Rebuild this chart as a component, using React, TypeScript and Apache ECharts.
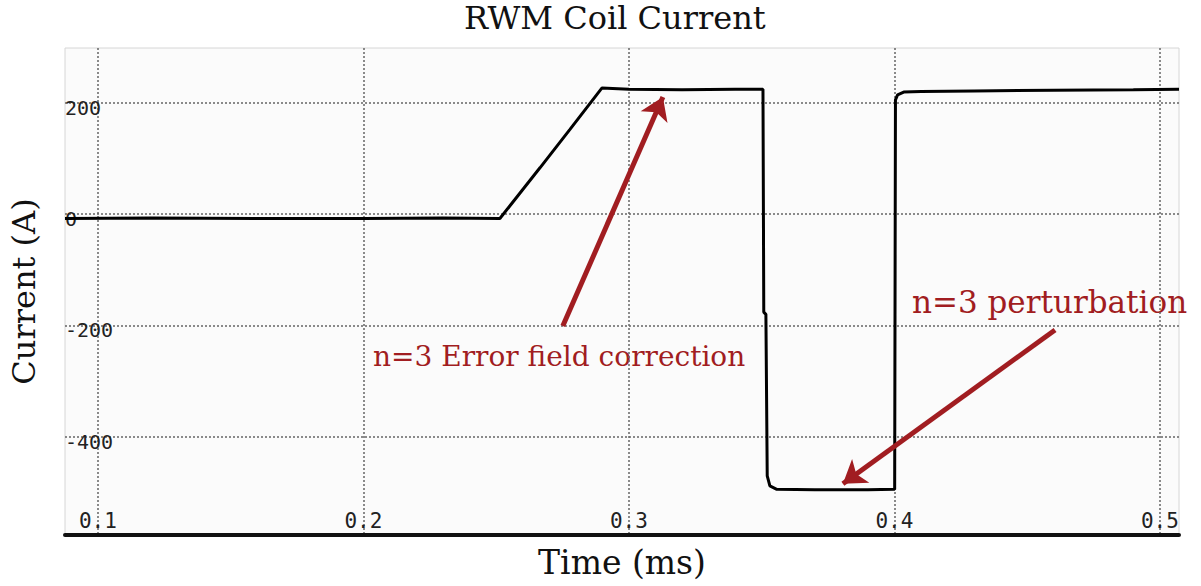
import React, { useEffect, useRef } from "react";
import * as echarts from "echarts";

// Measured coil current trace (time in ms, current in A)
const timeMs = [
  0.0876, 0.12, 0.16, 0.2, 0.23, 0.2514, 0.2665, 0.2778, 0.2898, 0.3, 0.32, 0.34,
  0.3505, 0.3508, 0.3516, 0.3521, 0.3531, 0.3557, 0.37, 0.39, 0.4001, 0.4004,
  0.4012, 0.4035, 0.41, 0.43, 0.46, 0.49, 0.5072,
];
const currentA = [
  -8, -7, -8, -8, -7, -8, 83, 152, 226, 224, 223, 224,
  224, -176, -180, -470, -488, -494, -495, -495, -494, 205,
  214, 219, 220, 221, 222, 223, 224,
];

// Axis ticks and ranges
const timeTicks = [0.1, 0.2, 0.3, 0.4, 0.5];
const currentTicks = [-400, -200, 0, 200];
const timeRange = [0.0876, 0.5072];
const currentRange = [-576, 298];

// Annotation arrows: [tailTime, tailCurrent, headTime, headCurrent]
const correctionArrow = [0.2751, -201, 0.3128, 210];
const perturbationArrow = [0.4605, -208, 0.3806, -484];

const annotationColor = "#a11d21";
const serif = "'DejaVu Serif', 'Liberation Serif', serif";
const tickFont = "'DejaVu Sans Mono', 'Liberation Mono', monospace";

export default function App() {
  const ref = useRef<HTMLDivElement>(null);

  useEffect(() => {
    if (!ref.current) return;
    const chart = echarts.init(ref.current, undefined, { renderer: "svg" });

    const arrow = (a: number[]) => [
      { coord: [a[0], a[1]], symbol: "none" },
      { coord: [a[2], a[3]], symbol: "arrow", symbolSize: 22 },
    ];

    chart.setOption({
      animation: false,
      backgroundColor: "#ffffff",
      title: {
        text: "RWM Coil Current",
        left: 464,
        top: 2,
        padding: 0,
        textStyle: { fontFamily: serif, fontSize: 32, fontWeight: "normal", color: "#111" },
      },
      grid: {
        left: 65,
        right: 22,
        top: 48,
        bottom: 51,
        show: true,
        backgroundColor: "#fbfbfb",
        borderColor: "#d6d6d6",
        borderWidth: 1,
      },
      xAxis: {
        type: "value",
        min: timeRange[0],
        max: timeRange[1],
        name: "Time (ms)",
        nameLocation: "middle",
        nameGap: 11,
        nameTextStyle: { fontFamily: serif, fontSize: 33, color: "#111" },
        axisLine: { show: true, onZero: false, lineStyle: { color: "#111", width: 4 } },
        axisTick: { show: false, customValues: timeTicks },
        axisLabel: {
          inside: true,
          margin: 4,
          customValues: timeTicks,
          formatter: (v: number) => v.toFixed(1),
          fontFamily: tickFont,
          fontSize: 21,
          color: "#222",
        },
        splitLine: { show: true, lineStyle: { color: "#666", width: 1.5, type: [2, 2] } },
      },
      yAxis: {
        type: "value",
        min: currentRange[0],
        max: currentRange[1],
        name: "Current (A)",
        nameLocation: "middle",
        nameGap: 25,
        nameTextStyle: { fontFamily: serif, fontSize: 32, color: "#111" },
        axisLine: { show: false },
        axisTick: { show: false, customValues: currentTicks },
        axisLabel: {
          inside: true,
          margin: 0,
          customValues: currentTicks,
          formatter: (v: number) => String(v),
          fontFamily: tickFont,
          fontSize: 20,
          color: "#222",
          verticalAlign: "top",
          lineHeight: 10,
        },
        splitLine: { show: true, lineStyle: { color: "#666", width: 1.5, type: [2, 2] } },
      },
      graphic: [
        {
          type: "text",
          x: 373,
          y: 356,
          style: {
            text: "n=3 Error field correction",
            font: `28px ${serif}`,
            fill: annotationColor,
            textAlign: "left",
            textVerticalAlign: "middle",
          },
        },
        {
          type: "text",
          x: 912,
          y: 302,
          style: {
            text: "n=3 perturbation",
            font: `31px ${serif}`,
            fill: annotationColor,
            textAlign: "left",
            textVerticalAlign: "middle",
          },
        },
      ],
      series: [
        {
          type: "line",
          data: timeMs.map((t, i) => [t, currentA[i]]),
          showSymbol: false,
          symbol: "none",
          lineStyle: { color: "#000", width: 3 },
          markLine: {
            silent: true,
            animation: false,
            label: { show: false },
            lineStyle: { color: annotationColor, width: 5, type: "solid" },
            data: [arrow(correctionArrow), arrow(perturbationArrow)],
          },
        },
      ],
    });

    return () => chart.dispose();
  }, []);

  return (
    <div
      ref={ref}
      style={{ position: "fixed", left: 0, top: 0, width: 1201, height: 586 }}
    />
  );
}
